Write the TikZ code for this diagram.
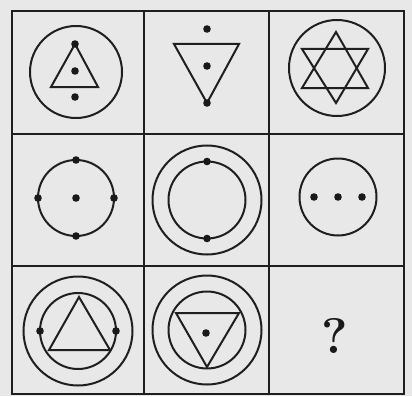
\documentclass[tikz,border=0pt]{standalone}
\begin{document}
\begin{tikzpicture}[x=1pt,y=-1pt,
  ln/.style={line width=2pt, draw=black!88, line join=miter},
  dot/.style={fill=black!90, draw=none},
  frame/.style={line width=2pt, draw=black!88}]
\fill[black!9] (0,0) rectangle (412,396);
\useasboundingbox (0,0) rectangle (412,396);
\def\dotr{3.8}
% grid
\draw[frame] (12,11) rectangle (404,394);
\draw[frame] (144,11) -- (144,394);
\draw[frame] (269,11) -- (269,394);
\draw[frame] (12,134) -- (404,134);
\draw[frame] (12,266) -- (404,266);
% row 1 cell 1
\draw[ln] (76,72) circle (46);
\draw[ln] (75,44) -- (98,87) -- (51,87) -- cycle;
\fill[dot] (75,44) circle (\dotr) (75,71) circle (\dotr) (75,97) circle (\dotr);
% row 1 cell 2
\draw[ln] (174,44) -- (239,44) -- (207,103) -- cycle;
\fill[dot] (207,29) circle (\dotr) (207,66) circle (\dotr) (207,103) circle (\dotr);
% row 1 cell 3
\draw[ln] (337,68) circle (48);
\draw[ln] (336,32) -- (368,88) -- (302,88) -- cycle;
\draw[ln] (302,49) -- (368,49) -- (336,103) -- cycle;
% row 2 cell 1
\draw[ln] (76,198) circle (38);
\fill[dot] (76,160) circle (\dotr) (76,236) circle (\dotr) (38,198) circle (\dotr) (114,198) circle (\dotr) (76,198) circle (\dotr);
% row 2 cell 2
\draw[ln] (207,200) circle (54.5);
\draw[ln] (207,200) circle (38.5);
\fill[dot] (207,161.5) circle (\dotr) (207,238.5) circle (\dotr);
% row 2 cell 3
\draw[ln] (338,197) circle (38.5);
\fill[dot] (314,197) circle (\dotr) (338,197) circle (\dotr) (362,197) circle (\dotr);
% row 3 cell 1
\draw[ln] (78,331) circle (54.5);
\draw[ln] (78,331) circle (38);
\draw[ln] (79,297) -- (110,350) -- (49,350) -- cycle;
\fill[dot] (40,331) circle (\dotr) (116,331) circle (\dotr);
% row 3 cell 2
\draw[ln] (207,330) circle (54.5);
\draw[ln] (207,330) circle (38.5);
\draw[ln] (176,313) -- (239,313) -- (207,367) -- cycle;
\fill[dot] (206,333) circle (\dotr);
% row 3 cell 3
\node[font=\fontsize{50}{50}\selectfont\bfseries, text=black!90] (q) at (335,336) {?};
\end{tikzpicture}
\end{document}
